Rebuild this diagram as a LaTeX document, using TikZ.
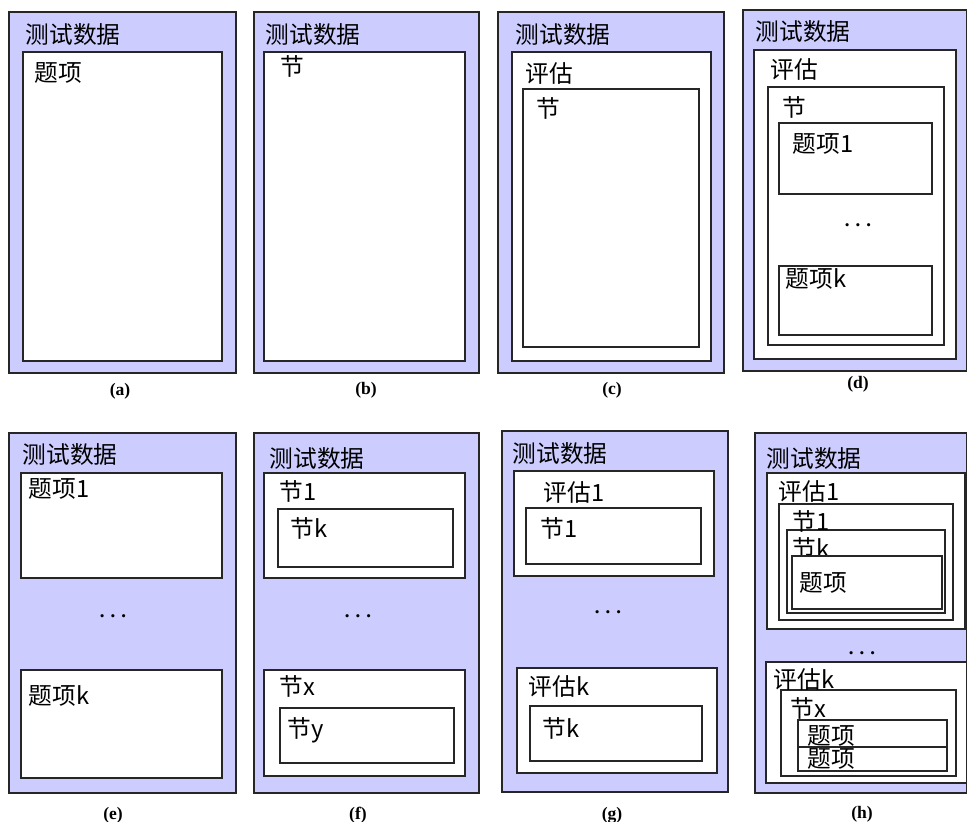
\documentclass[tikz,border=0pt]{standalone}
\usepackage{fontspec}
\setmainfont{Noto Sans CJK SC}
\newfontfamily\capfont{Liberation Serif}
\definecolor{lav}{RGB}{204,204,255}
\tikzset{
  outerbox/.style={draw=black!85,fill=lav},
  innerbox/.style={draw=black!85,fill=white},
  lbl/.style={anchor=north west,inner sep=0pt,font=\fontsize{13.5}{15}\selectfont},
  more/.style={inner sep=0pt,font=\large\boldmath},
  captxt/.style={inner sep=0pt,font=\capfont\bfseries\fontsize{10}{12}\selectfont}
}
\begin{document}
\begin{tikzpicture}[x=0.02cm,y=-0.02cm,line width=0.9pt]
  \useasboundingbox (0,0) rectangle (968,822);

  % (a)
  \draw[outerbox] (9,12) rectangle (236,373);
  \draw[innerbox] (23,52) rectangle (222,361);
  \node[lbl] (a0) at (25,23) {测试数据};
  \node[lbl] (a1) at (34,62) {题项};
  \node[captxt] (acap) at (120,391) {(a)};

  % (b)
  \draw[outerbox] (254,12) rectangle (479,373);
  \draw[innerbox] (264,52) rectangle (465,361);
  \node[lbl] (b0) at (265,23) {测试数据};
  \node[lbl] (b1) at (280,55) {节};
  \node[captxt] (bcap) at (366,390) {(b)};

  % (c)
  \draw[outerbox] (498,12) rectangle (724,373);
  \draw[innerbox] (512,52) rectangle (711,361);
  \draw[innerbox] (523,89) rectangle (699,347);
  \node[lbl] (c0) at (515,23) {测试数据};
  \node[lbl] (c1) at (525,62) {评估};
  \node[lbl] (c2) at (536,97) {节};
  \node[captxt] (ccap) at (612,390) {(c)};

  % (d)
  \draw[outerbox] (743,10) rectangle (966.5,371);
  \draw[innerbox] (754,50) rectangle (956,359);
  \draw[innerbox] (768,87) rectangle (944,345);
  \draw[innerbox] (779,123) rectangle (932,194);
  \draw[innerbox] (779,266) rectangle (932,335);
  \node[lbl] (d0) at (755,20) {测试数据};
  \node[lbl] (d1) at (770,58) {评估};
  \node[lbl] (d2) at (782,96) {节};
  \node[lbl] (d3) at (792,133) {题项1};
  \node[more] (d4) at (858,226) {$\cdots$};
  \node[lbl] (d5) at (785,268) {题项k};
  \node[captxt] (dcap) at (858,384) {(d)};

  % (e)
  \draw[outerbox] (9,433) rectangle (236,793);
  \draw[innerbox] (21,473) rectangle (222,578);
  \draw[innerbox] (21,670) rectangle (222,778);
  \node[lbl] (e0) at (22,443) {测试数据};
  \node[lbl] (e1) at (28,478) {题项1};
  \node[more] (e2) at (113,617) {$\cdots$};
  \node[lbl] (e3) at (28,685) {题项k};
  \node[captxt] (ecap) at (113,815) {(e)};

  % (f)
  \draw[outerbox] (254,433) rectangle (479,793);
  \draw[innerbox] (264,473) rectangle (465,578);
  \draw[innerbox] (278,509) rectangle (453,567);
  \draw[innerbox] (264,670) rectangle (465,776);
  \draw[innerbox] (280,708) rectangle (454,763);
  \node[lbl] (f0) at (269,447) {测试数据};
  \node[lbl] (f1) at (279,480) {节1};
  \node[lbl] (f2) at (290,517) {节k};
  \node[more] (f3) at (358,617) {$\cdots$};
  \node[lbl] (f4) at (279,675) {节x};
  \node[lbl] (f5) at (287,717) {节y};
  \node[captxt] (fcap) at (358,815) {(f)};

  % (g)
  \draw[outerbox] (502,431) rectangle (728,792);
  \draw[innerbox] (514,471) rectangle (714,576);
  \draw[innerbox] (526,508) rectangle (701,564);
  \draw[innerbox] (517,668) rectangle (717,773);
  \draw[innerbox] (530,706) rectangle (702,761);
  \node[lbl] (g0) at (512,442) {测试数据};
  \node[lbl] (g1) at (543,481) {评估1};
  \node[lbl] (g2) at (540,517) {节1};
  \node[more] (g3) at (608,613) {$\cdots$};
  \node[lbl] (g4) at (528,675) {评估k};
  \node[lbl] (g5) at (542,717) {节k};
  \node[captxt] (gcap) at (612,815) {(g)};

  % (h)
  \draw[outerbox] (755,433) rectangle (966.5,793);
  \draw[innerbox] (767,473) rectangle (965,629);
  \draw[innerbox] (779,504) rectangle (953,620);
  \draw[innerbox] (787,530) rectangle (945,613);
  \node[lbl] (h0) at (766,447) {测试数据};
  \node[lbl] (h1) at (778,480) {评估1};
  \node[lbl] (h2) at (792,510) {节1};
  \node[lbl] (h3) at (792,537) {节k};
  \draw[innerbox] (792,556) rectangle (942,609);
  \node[lbl] (h4) at (799,572) {题项};
  \node[more] (h5) at (862,653) {$\cdots$};
  \draw[innerbox] (766,662) rectangle (966.5,783);
  \draw[innerbox] (781,690) rectangle (956,776);
  \node[lbl] (h6) at (773,668) {评估k};
  \node[lbl] (h7) at (790,697) {节x};
  \draw[innerbox] (798,720) rectangle (947,747);
  \node[lbl] (h8) at (807,725) {题项};
  \draw[innerbox] (798,747) rectangle (947,771);
  \node[lbl] (h9) at (807,748) {题项};
  \node[captxt] (hcap) at (862,814) {(h)};
\end{tikzpicture}
\end{document}
